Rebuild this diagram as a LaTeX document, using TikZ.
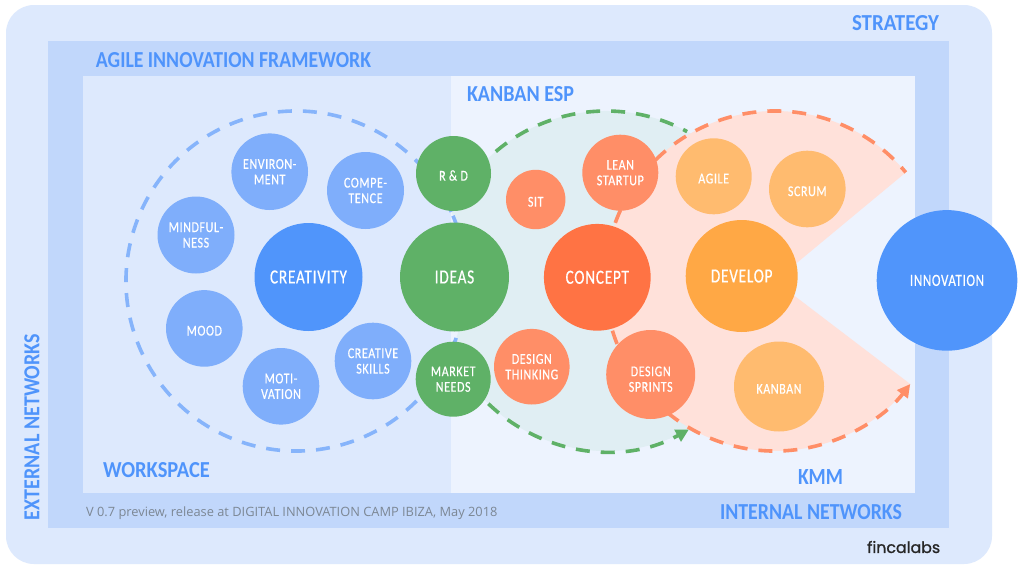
\documentclass[tikz,border=0pt]{standalone}
\usepackage{fontspec}
\usetikzlibrary{arrows.meta}
\setmainfont{Carlito}
\newfontfamily\labfont[LetterSpace=4,FakeStretch=0.8,FakeBold=0.4]{Carlito}
\newfontfamily\biglabfont[LetterSpace=4,FakeStretch=0.76,FakeBold=0.5]{Carlito}
\newfontfamily\titlefont{Carlito Bold}
\newfontfamily\foot{Open Sans}
\newfontfamily\logo[FakeBold=1.1]{Poppins}
\definecolor{outerbg}{HTML}{DDE9FD}
\definecolor{framebg}{HTML}{C1D7FB}
\definecolor{rightbg}{HTML}{EDF3FE}
\definecolor{titleblue}{HTML}{4F94FB}
\definecolor{lblue}{HTML}{7FAEFB}
\definecolor{dashblue}{HTML}{86B4FB}
\definecolor{dblue}{HTML}{5095FB}
\definecolor{grn}{HTML}{5FB167}
\definecolor{lorange}{HTML}{FF8E67}
\definecolor{dorange}{HTML}{FF7344}
\definecolor{ylw}{HTML}{FFA845}
\definecolor{lylw}{HTML}{FFBB6F}
\definecolor{tealfill}{HTML}{E0EEF3}
\definecolor{orfill}{HTML}{FFE1DA}
\definecolor{footgrey}{HTML}{7C8794}
\tikzset{
  bubble/.style={circle,inner sep=0pt,text=white,align=center,font=\labfont\fontsize{15}{15.5}\selectfont,execute at begin node={\rule{0pt}{14.3pt}}},
  bigbubble/.style={circle,inner sep=0pt,text=white,align=center,font=\biglabfont\fontsize{20}{22}\selectfont},
  title/.style={inner sep=0pt,text=titleblue,font=\titlefont\fontsize{23}{25}\selectfont},
  arcline/.style={line width=3.6pt,dash pattern=on 14pt off 11pt},
  tip/.style={-{Triangle[length=13pt,width=13pt]}},
}
\newcommand{\fit}[3]{\resizebox{#1pt}{#2pt}{#3}}
\begin{document}
\begin{tikzpicture}[yscale=-1,x=1pt,y=1pt]
\useasboundingbox (0,0) rectangle (1024,565);
\fill[white] (0,0) rectangle (1024,565);
\fill[outerbg,rounded corners=28pt] (6,5) rectangle (992,564);
\fill[framebg] (48,41) rectangle (949,528);
\fill[outerbg] (83,76) rectangle (451,493);
\fill[rightbg] (451,76) rectangle (915,493);
\coordinate (blueC) at (296,281);
\coordinate (greenC) at (606,281);
\coordinate (orC) at (775,281);
% region fills
\fill[tealfill] (greenC) ++(-155.7:170) arc[start angle=-155.7,end angle=155.7,radius=170] arc[start angle=24.3,end angle=-24.3,radius=170] -- cycle;
\fill[orfill] (orC) -- ++(-39.7:170) arc[start angle=-39.7,end angle=-322.7,radius=170] -- cycle;
% dashed arcs
\draw[arcline,dashblue] (blueC) ++(-24:170) arc[start angle=-24,end angle=-384,radius=170];
\draw[arcline,grn] (greenC) ++(-130.4:170) arc[start angle=-130.4,end angle=-61.5,radius=170];
\draw[arcline,grn,tip] (greenC) ++(133.8:170) arc[start angle=133.8,end angle=60.8,radius=170];
\draw[arcline,lorange] (orC) ++(-160:170) arc[start angle=-160,end angle=-39.7,radius=170];
\draw[arcline,lorange,tip] (orC) ++(163:170) arc[start angle=163,end angle=37.3,radius=170];
% bubbles
\node[bubble,fill=lblue,minimum size=76.6pt] (env) at (269.7,171.7) {ENVIRON-\\MENT};
\node[bubble,fill=lblue,minimum size=77pt] (comp) at (365.5,190.5) {COMPE-\\TENCE};
\node[bubble,fill=lblue,minimum size=77pt] (mind) at (196,235) {MINDFUL-\\NESS};
\node[bubble,fill=lblue,minimum size=76.6pt] (mood) at (204.3,328.4) {MOOD};
\node[bubble,fill=lblue,minimum size=76.6pt] (moti) at (281,386.3) {MOTI-\\VATION};
\node[bubble,fill=lblue,minimum size=76.6pt] (skills) at (373,361) {CREATIVE\\SKILLS};
\node[bigbubble,fill=dblue,minimum size=108pt] (creat) at (308.5,277) {CREATIVITY};
\node[bubble,fill=grn,minimum size=75pt] (rd) at (453.5,173.5) {R \& D};
\node[bubble,fill=grn,minimum size=75pt] (market) at (453.2,379.2) {MARKET\\NEEDS};
\node[bigbubble,fill=grn,minimum size=109pt] (ideas) at (454.5,277) {IDEAS};
\node[bubble,fill=lorange,minimum size=59.4pt] (sit) at (535.7,199.5) {SIT};
\node[bubble,fill=lorange,minimum size=76pt] (lean) at (620.3,172.7) {LEAN\\STARTUP};
\node[bubble,fill=lorange,minimum size=75.6pt] (dthink) at (531.8,366.7) {DESIGN\\THINKING};
\node[bubble,fill=lorange,minimum size=89pt] (dsprint) at (650.7,374.5) {\rule{0pt}{19pt}DESIGN\\SPRINTS};
\node[bigbubble,fill=dorange,minimum size=106.8pt] (concept) at (597.3,277.3) {CONCEPT};
\node[bubble,fill=lylw,minimum size=76pt] (agile) at (713.7,176.3) {AGILE};
\node[bubble,fill=lylw,minimum size=76.6pt] (scrum) at (807.3,189) {SCRUM};
\node[bubble,fill=lylw,minimum size=90pt] (kanban) at (779,386.5) {KANBAN};
\node[bigbubble,fill=ylw,minimum size=112pt] (develop) at (741.7,276) {DEVELOP};
\node[bigbubble,fill=dblue,minimum size=140.6pt,font=\biglabfont\fontsize{17}{19}\selectfont] (innov) at (947,280.4) {INNOVATION};
% titles
\node[title] (tstrategy) at (895.5,23.5) {\fit{87}{15}{STRATEGY}};
\node[title] (tagile) at (233.5,60) {\fit{275}{15}{AGILE INNOVATION FRAMEWORK}};
\node[title] (tesp) at (520.5,94.5) {\fit{107}{15}{KANBAN ESP}};
\node[title] (twork) at (156.5,470) {\fit{107}{15}{WORKSPACE}};
\node[title] (tkmm) at (820.5,477) {\fit{45}{15}{KMM}};
\node[title] (tint) at (811,512) {\fit{182}{15}{INTERNAL NETWORKS}};
\node[title,rotate=90] (text) at (32,427) {\fit{186}{15}{EXTERNAL NETWORKS}};
\node[inner sep=0pt,anchor=west,text=footgrey,font=\foot\fontsize{12.83}{14}\selectfont] (tfoot) at (86,513) {V 0.7 preview, release at DIGITAL INNOVATION CAMP IBIZA, May 2018};
\node[inner sep=0pt,anchor=west,text=black!85,font=\logo\fontsize{15.8}{17}\selectfont] (tlogo) at (867,547) {fincalabs};
\end{tikzpicture}
\end{document}
